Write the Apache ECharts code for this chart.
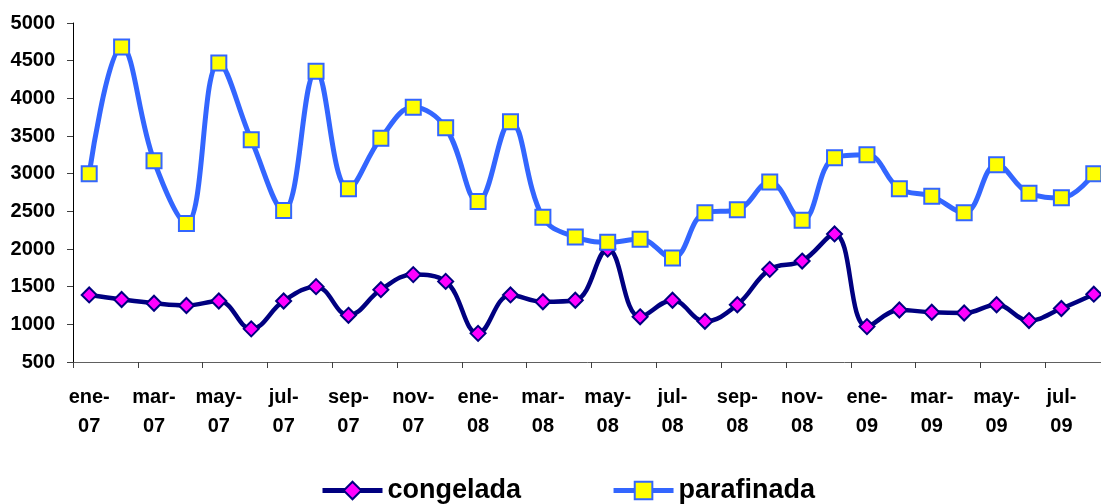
<!DOCTYPE html>
<html>
<head>
<meta charset="utf-8">
<script src="https://cdn.jsdelivr.net/npm/echarts@6/dist/echarts.min.js"></script>
<style>
  html, body { margin: 0; padding: 0; background: #fff; }
  #chart { width: 1101px; height: 504px; }
</style>
</head>
<body>
<div id="chart"></div>
<script>
// months ene-07 .. ago-09
var months = ['ene', 'feb', 'mar', 'abr', 'may', 'jun', 'jul', 'ago', 'sep', 'oct', 'nov', 'dic'];
var categories = [];
['07', '08', '09'].forEach(function (yy) {
    months.forEach(function (m) {
        categories.push(m + '-' + yy);
    });
});
categories = categories.slice(0, 32);

var congelada = [1390, 1330, 1280, 1250, 1310, 940, 1310, 1500, 1120, 1460, 1660, 1570,
    880, 1390, 1300, 1320, 2000, 1100, 1320, 1040, 1260, 1730, 1840, 2200,
    970, 1190, 1160, 1150, 1260, 1050, 1210, 1400];

var parafinada = [3000, 4680, 3170, 2340, 4470, 3450, 2510, 4360, 2800, 3470, 3880, 3610,
    2630, 3690, 2420, 2160, 2090, 2130, 1880, 2480, 2520, 2890, 2380, 3210,
    3250, 2800, 2700, 2480, 3120, 2740, 2680, 3000];

var font = '"Liberation Sans", Arial, sans-serif';

var myChart = echarts.init(document.getElementById('chart'));

var option = {
    backgroundColor: '#ffffff',
    animation: false,
    grid: {
        left: 73,
        right: -9,
        top: 23,
        bottom: 142,
        outerBoundsMode: 'none'
    },
    legend: {
        left: 320,
        top: 477,
        padding: 0,
        itemWidth: 60,
        itemHeight: 22,
        itemGap: 90,
        lineStyle: { width: 5 },
        textStyle: {
            fontFamily: font,
            fontWeight: 'bold',
            fontSize: 27,
            color: '#000'
        },
        data: ['congelada', 'parafinada']
    },
    xAxis: {
        type: 'category',
        data: categories,
        boundaryGap: true,
        axisLine: { lineStyle: { color: '#606060', width: 1 } },
        axisTick: { show: true, interval: 1, length: 6, lineStyle: { color: '#404040', width: 1 } },
        axisLabel: {
            interval: 1,
            margin: 21,
            fontFamily: font,
            fontWeight: 'bold',
            fontSize: 20,
            lineHeight: 29,
            color: '#000',
            formatter: function (v) { return v.replace('-', '-\n'); }
        },
        splitLine: { show: false }
    },
    yAxis: {
        type: 'value',
        min: 500,
        max: 5000,
        interval: 500,
        axisLine: { show: true, lineStyle: { color: '#000', width: 1 } },
        axisTick: { show: true, length: 6, lineStyle: { color: '#404040', width: 1 } },
        axisLabel: {
            margin: 18,
            fontFamily: font,
            fontWeight: 'bold',
            fontSize: 20,
            color: '#000',
            formatter: function (v) { return String(v); }
        },
        splitLine: { show: false }
    },
    series: [
        {
            name: 'congelada',
            type: 'line',
            data: congelada,
            smooth: 0.4,
            symbol: 'diamond',
            symbolSize: 15,
            lineStyle: { color: '#000080', width: 4.5 },
            itemStyle: { color: '#ff00ff', borderColor: '#000080', borderWidth: 2 }
        },
        {
            name: 'parafinada',
            type: 'line',
            data: parafinada,
            smooth: 0.4,
            symbol: 'rect',
            symbolSize: 15,
            lineStyle: { color: '#3366ff', width: 5 },
            itemStyle: { color: '#ffff00', borderColor: '#3366ff', borderWidth: 2 }
        }
    ]
};

myChart.setOption(option);
</script>
</body>
</html>
